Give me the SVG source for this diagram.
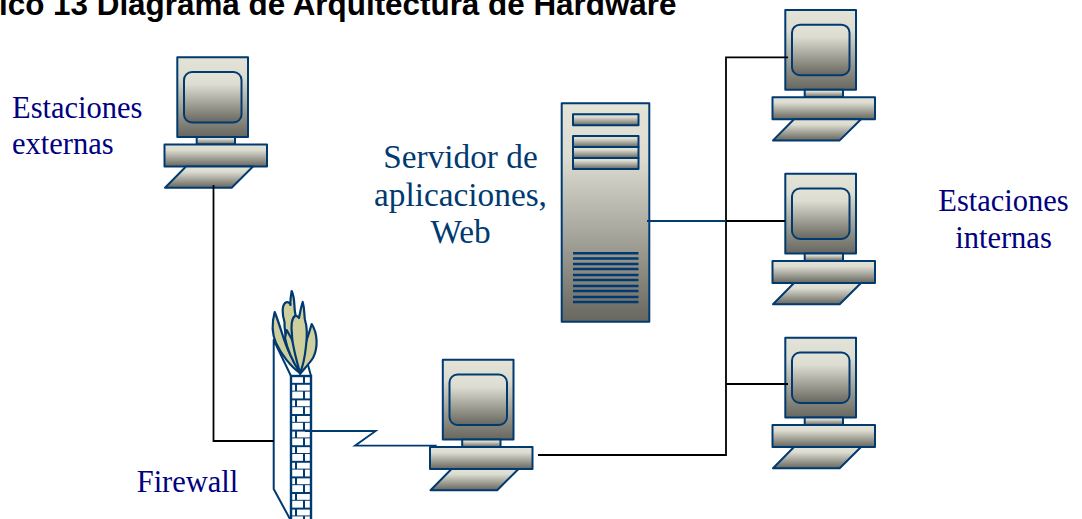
<svg xmlns="http://www.w3.org/2000/svg" width="1082" height="519" viewBox="0 0 1082 519">
<style>
.s{stroke:#003a70;stroke-width:2;stroke-linejoin:round}
.f{fill:#cfcf9d;stroke:#003a70;stroke-width:2.200;stroke-linejoin:round}
.l{fill:none;stroke:#000;stroke-width:1.800}
.b{fill:none;stroke:#003a70;stroke-width:1.800}
.t{font-family:"Liberation Serif",serif;font-size:30.500px;fill:#000080}
.m{text-anchor:middle}
.t2{font-family:"Liberation Serif",serif;font-size:33.300px;fill:#003a70;text-anchor:middle}
.h{font-family:"Liberation Sans",sans-serif;font-size:31.400px;font-weight:bold;fill:#000}
</style>
<defs>
<linearGradient id="g" x1="0" y1="0" x2="0" y2="1"><stop offset="0" stop-color="#e3e3d8"/><stop offset=".25" stop-color="#dcdcd1"/><stop offset="1" stop-color="#68675f"/></linearGradient>
<pattern id="br" patternUnits="userSpaceOnUse" x="291" y="376" width="20" height="15.600">
<rect width="20" height="15.600" fill="#fff"/>
<path d="M0 7.800H20M0 15.600H20M13 0V7.800M5 7.800V15.600" fill="none" stroke="#003a70" stroke-width="2"/>
</pattern>
<g id="pc">
<rect class="s" x="177.300" y="57.300" width="70.700" height="79.700" fill="url(#g)"/>
<rect class="s" x="184" y="72" width="57.500" height="50.500" rx="8" fill="url(#g)"/>
<rect class="s" x="196.700" y="137" width="38.300" height="7.500" fill="url(#g)"/>
<rect class="s" x="164.500" y="144.500" width="102.500" height="22" fill="url(#g)"/>
<path class="s" d="M186 166.500H253L231.700 187.700H165Z" fill="url(#g)"/>
</g>
</defs>
<text class="h" x="-1" y="15">ico 13 Diagrama de Arquitectura de Hardware</text>
<g id="estacion-externa"><use href="#pc"/></g>
<g id="firewall">
<path class="s" fill="#fff" d="M273.700 340V489L290 519H291V376ZM308 365L311 376"/>
<rect x="291" y="376" width="20" height="145" fill="url(#br)" stroke="#003a70" stroke-width="2.400"/>
<path class="f" d="M291.700 291C295 298 294 306 295 312C298 330 303 355 300 373C291 360 284 335 284.500 322C282 314 282 306 285 303C288 301 290 303 290.500 305C290 300 291 295 291.700 291Z"/>
<path class="f" d="M274.700 312C281 328 284 342 289 352C293 360 297 366 300 373C291 367 281 354 276 343C272 334 272 322 274.700 312Z"/>
<path class="f" d="M286.700 330C292 338 298 352 300 373C293 362 287 348 285 338Z"/>
<path class="f" d="M311.700 324C318 334 318 348 313 358C309 364 304 369 300 374C301 362 304 350 306 342C308 336 310 330 311.700 324Z"/>
<path class="f" d="M302.700 302C305 310 304 316 305 320C307 326 307 338 306 346C305 356 303 366 300 373C296 358 292 345 292 335C291 326 292 318 295 316C297 315 298 317 299 318C300 313 301 307 302.700 302Z"/>
</g>
<g id="servidor">
<rect class="s" x="561.700" y="103.300" width="87.600" height="218.400" fill="url(#g)"/>
<g fill="url(#g)" class="s"><rect x="573" y="114.300" width="65.500" height="11"/><rect x="573" y="136" width="65.500" height="11"/><rect x="573" y="147" width="65.500" height="11"/><rect x="573" y="158" width="65.500" height="11"/></g>
<path d="M573 253.300H638.500M573 258.500H638.500M573 264H638.500M573 269H638.500M573 275H638.500M573 280H638.500M573 286H638.500M573 291H638.500M573 297H638.500M573 302H638.500" fill="none" stroke="#003a70" stroke-width="2.400"/>
</g>
<g id="estacion-proxy"><use href="#pc" x="265.500" y="302.500"/></g>
<g id="estacion-interna-1"><use href="#pc" x="608" y="-47.300"/></g>
<g id="estacion-interna-2"><use href="#pc" x="608" y="116.500"/></g>
<g id="estacion-interna-3"><use href="#pc" x="608" y="280.500"/></g>
<g id="connectors">
<path class="l" d="M213.500 185V441H274"/>
<path class="l" d="M538 455H726V57.300H788M726 221H785M726 384H788"/>
<path class="b" d="M647 221H726"/>
<path class="b" d="M305 431H375.700L355 445.700H436.700"/>
</g>
<text class="t" x="12" y="118">Estaciones</text>
<text class="t" x="12" y="154">externas</text>
<text class="t m" x="187.500" y="492">Firewall</text>
<text class="t2" x="460.500" y="167.700">Servidor de</text>
<text class="t2" x="460.500" y="206">aplicaciones,</text>
<text class="t2" x="460.500" y="243">Web</text>
<text class="t m" x="1003.500" y="210.700">Estaciones</text>
<text class="t m" x="1003.500" y="248">internas</text>
</svg>
